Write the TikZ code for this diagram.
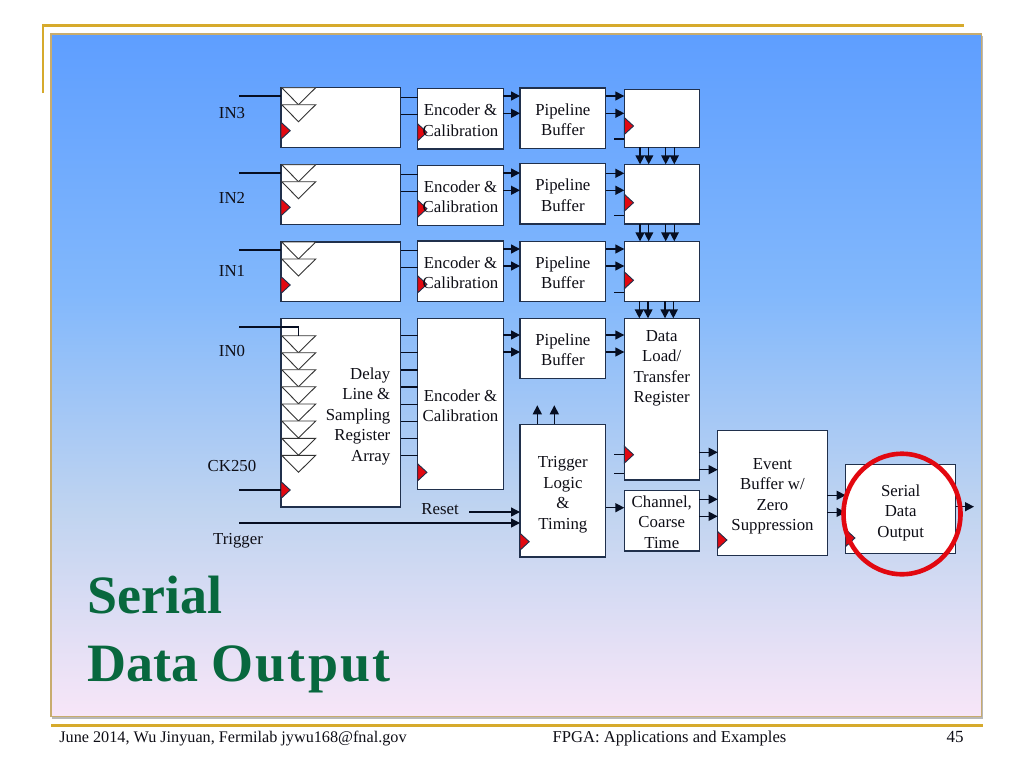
\documentclass[tikz,border=0pt]{standalone}
\usepackage{fontspec}
\setmainfont{Liberation Serif}
\usetikzlibrary{arrows.meta}
\definecolor{gold}{RGB}{214,170,44}
\definecolor{panelrim}{RGB}{200,172,110}
\definecolor{wirecol}{RGB}{6,14,34}
\definecolor{boxrim}{RGB}{32,48,76}
\definecolor{titlegreen}{RGB}{8,104,62}
\definecolor{clockred}{RGB}{226,8,16}
\definecolor{txt}{RGB}{14,14,22}
\definecolor{panelbot}{RGB}{248,230,248}
\definecolor{panelc}{RGB}{192,212,240}
\definecolor{paneld}{RGB}{130,184,252}
\definecolor{paneltop}{RGB}{94,158,255}
\pgfdeclareverticalshading{panelfill}{100bp}{
 color(0bp)=(panelbot); color(25bp)=(panelbot);
 color(40bp)=(panelc); color(56bp)=(paneld); color(75bp)=(paneltop); color(100bp)=(paneltop)}
\tikzset{
 x=1pt,y=-1pt,
 blockbox/.style={draw=boxrim,fill=white,line width=1.25pt,inner sep=0pt,outer sep=0pt},
 lab/.style={inner sep=0pt,align=center,text=txt,font=\fontsize{16.8}{20.5}\selectfont},
 wire/.style={draw=wirecol,line width=1.4pt},
 arr/.style={wire,-{Triangle[length=9pt,width=9pt]}},
 trianglemark/.style={draw=black!80,line width=0.9pt,fill=white,line join=miter},
 clockmark/.style={draw=boxrim,fill=clockred,line width=0.9pt},
 foot/.style={inner sep=0pt,text=txt,anchor=base},
 headline/.style={inner sep=0pt,text=titlegreen,anchor=base west,font=\fontsize{54}{60}\bfseries\selectfont},
}
% block without clock: name, x0, y0, x1, y1, text drop, text
\newcommand\blk[7]{%
 \pgfmathsetmacro\bw{#4-#2}\pgfmathsetmacro\bh{#5-#3}%
 \pgfmathsetmacro\bcx{(#2+#4)/2}\pgfmathsetmacro\bcy{(#3+#5)/2}%
 \node[blockbox,minimum width=\bw pt,minimum height=\bh pt] (#1) at (\bcx,\bcy) {};
 \node[lab,yshift=-#6pt] (#1text) at (#1) {#7};}
% block with clock: name, x0, y0, x1, y1, clock y, text drop, text
\newcommand\cblk[8]{%
 \pgfmathsetmacro\bw{#4-#2}\pgfmathsetmacro\bh{#5-#3}%
 \pgfmathsetmacro\bcx{(#2+#4)/2}\pgfmathsetmacro\bcy{(#3+#5)/2}%
 \node[blockbox,minimum width=\bw pt,minimum height=\bh pt] (#1) at (\bcx,\bcy) {};
 \draw[clockmark] (#2,#6-8.5) -- (#2+9.2,#6) -- (#2,#6+8.5) -- cycle;
 \def\blocktext{#8}\ifx\blocktext\empty\else\node[lab,yshift=-#7pt] (#1text) at (#1) {#8};\fi}
\newcommand\tri[1]{\draw[trianglemark] (281.7,#1) -- (315.7,#1) -- (298.5,#1+17) -- cycle;}
\newcommand\hw[4]{\draw[#1] (#2 |- 0,#4) -- (#3 |- 0,#4);}
\newcommand\vw[4]{\draw[#1] (#4,0 |- #2) -- (#4,0 |- #3);}
\begin{document}
\begin{tikzpicture}
\useasboundingbox (0,0) rectangle (1024,768);
\fill[white] (0,0) rectangle (1024,768);
% slide frame
\fill[black!28] (52,36) rectangle (983,719);
\fill[shading=panelfill] (51,34) rectangle (981.5,716.5);
\draw[panelrim,line width=1.2pt] (51,34) rectangle (981.5,716.5);
\draw[gold,line width=2.4pt] (43,93) -- (43,25.5) -- (964,25.5);
\draw[gold,line width=2.4pt] (51,725.3) -- (983,725.3);
% blocks
\cblk{reg3}{281}{87.7}{400.7}{147.3}{130.7}{0}{}
\cblk{reg2}{281}{164.7}{400.7}{224.3}{207.3}{0}{}
\cblk{reg1}{281}{242}{400.7}{301.3}{285}{0}{}
\cblk{reg0}{281}{318.7}{400.7}{507}{490}{0}{}
\cblk{enc3}{417.7}{88.3}{503.3}{149}{132.3}{1.5}{Encoder \&\\Calibration}
\cblk{enc2}{417.7}{165.3}{503.3}{225.7}{208.7}{1.5}{Encoder \&\\Calibration}
\cblk{enc1}{417.7}{241}{503.3}{301.3}{284.3}{1.5}{Encoder \&\\Calibration}
\cblk{enc0}{417.7}{318.3}{503.3}{489.3}{472.3}{2}{Encoder \&\\Calibration}
\blk{pipe3}{520}{88}{605.7}{148.3}{1.5}{Pipeline\\Buffer}
\blk{pipe2}{520}{163.7}{605.7}{224}{1.5}{Pipeline\\Buffer}
\blk{pipe1}{520}{241.3}{605.7}{301.3}{1.5}{Pipeline\\Buffer}
\blk{pipe0}{520}{318.3}{605.7}{378.3}{1.5}{Pipeline\\Buffer}
\cblk{load3}{624.3}{89.3}{699.3}{147.3}{126}{0}{}
\cblk{load2}{624.3}{164.3}{699.3}{224}{202.7}{0}{}
\cblk{load1}{624.3}{241.3}{699.3}{301.3}{280.3}{0}{}
\cblk{load0}{624.3}{318.3}{699.3}{480}{454.7}{0}{}
\cblk{trig}{520}{424.3}{605.7}{557}{541.7}{4}{Trigger\\Logic\\\&\\Timing}
\blk{chan}{624.3}{490.3}{699.3}{551}{1.5}{Channel,\\Coarse\\Time}
\cblk{event}{717.7}{430.7}{827.3}{555.7}{540}{3}{Event\\Buffer w/\\Zero\\Suppression}
\cblk{serial}{845.7}{464.7}{955.7}{553.3}{538}{3.5}{Serial\\Data\\Output}
% labels inside tall blocks
\node[lab,align=right,anchor=east] (reglabel) at (390.5,416) {Delay\\Line \&\\Sampling\\Register\\Array};
\node[lab] (loadlabel) at (661.7,368.5) {Data\\Load/\\Transfer\\Register};
% delay cells
\foreach \t in {87.7,104.7,164.7,181.7,242,259,335.7,352.7,369.7,386.7,404,421,438.3,455.3} {\tri{\t}}
% side labels
\node[lab] (in3) at (232,113) {IN3};
\node[lab] (in2) at (232,198) {IN2};
\node[lab] (in1) at (232,271) {IN1};
\node[lab] (in0) at (232,351) {IN0};
\node[lab] (ck) at (232,466) {CK250};
\node[lab] (trl) at (238,541) {Trigger};
\node[lab] (rst) at (440,509) {Reset};
% free ends
\coordinate (s3) at (239,96);
\coordinate (s2) at (239,173);
\coordinate (s1) at (239,250);
\coordinate (s0) at (239,327);
\coordinate (sck) at (239,490);
\coordinate (strg) at (239,523);
\coordinate (srst) at (469,512);
\coordinate (t0) at (298.5,335.7);
\coordinate (out) at (974,506.7);
% inputs
\draw[wire] (s3) -- (reg3.west |- s3);
\draw[wire] (s2) -- (reg2.west |- s2);
\draw[wire] (s1) -- (reg1.west |- s1);
\draw[wire] (s0) -- (t0 |- s0) -- (t0);
\draw[wire] (sck) -- (reg0.west |- sck);
\draw[arr] (strg) -- (trig.west |- strg);
\draw[arr] (srst) -- (trig.west |- srst);
% register to encoder
\foreach \y in {97.7,114.7}{\hw{wire}{reg3.east}{enc3.west}{\y}}
\foreach \y in {174.7,191.7}{\hw{wire}{reg2.east}{enc2.west}{\y}}
\foreach \y in {250.3,267.7}{\hw{wire}{reg1.east}{enc1.west}{\y}}
\foreach \y in {335.7,352.7,370,387,404.3,421.3,438.3,455.3}{\hw{wire}{reg0.east}{enc0.west}{\y}}
% encoder to pipeline
\foreach \y in {96,113.3}{\hw{arr}{enc3.east}{pipe3.west}{\y}}
\foreach \y in {173,190.3}{\hw{arr}{enc2.east}{pipe2.west}{\y}}
\foreach \y in {249,266}{\hw{arr}{enc1.east}{pipe1.west}{\y}}
\foreach \y in {335,352}{\hw{arr}{enc0.east}{pipe0.west}{\y}}
% pipeline to load
\foreach \y in {96,113.3}{\hw{arr}{pipe3.east}{load3.west}{\y}}
\foreach \y in {173.3,190.3}{\hw{arr}{pipe2.east}{load2.west}{\y}}
\foreach \y in {249,266}{\hw{arr}{pipe1.east}{load1.west}{\y}}
\foreach \y in {335,352}{\hw{arr}{pipe0.east}{load0.west}{\y}}
% short stubs
\coordinate (st) at (614,0);
\foreach \y/\b in {139/load3,215.7/load2,292.7/load1,454.7/load0,473.3/load0}{\hw{wire}{st}{\b.west}{\y}}
% load chain
\foreach \x in {640,648.7,665.7,674.3}{\vw{arr}{load3.south}{load2.north}{\x}\vw{arr}{load2.south}{load1.north}{\x}}
\foreach \x in {639.3,648,665,673.3}{\vw{arr}{load1.south}{load0.north}{\x}}
% trigger
\coordinate (up) at (0,405.3);
\foreach \x in {537.3,554.3}{\vw{arr}{trig.north}{up}{\x}}
\hw{arr}{trig.east}{chan.west}{507.7}
% to event and serial
\foreach \y in {452.3,469.7}{\hw{arr}{load0.east}{event.west}{\y}}
\foreach \y in {499.3,516.3}{\hw{arr}{chan.east}{event.west}{\y}}
\foreach \y in {495.3,512.3}{\hw{arr}{event.east}{serial.west}{\y}}
\draw[arr] (serial.east |- out) -- (out);
% highlight
\node[draw=clockred,line width=4.6pt,circle,inner sep=0pt,minimum width=117pt,yscale=1.03] (ring) at (902,514) {};
% title and footer
\node[headline] (title1) at (87,613) {Serial};
\node[headline] (title2) at (87,681) {Data {\addfontfeatures{LetterSpace=4}Output}};
\node[foot,font=\fontsize{16.2}{18}\selectfont] (f1) at (233,742) {June 2014, Wu Jinyuan, Fermilab jywu168@fnal.gov};
\node[foot,font=\fontsize{16.6}{18}\selectfont] (f2) at (669.5,742) {FPGA: Applications and Examples};
\node[foot,font=\fontsize{17}{18}\selectfont] (f3) at (955,742) {45};
\end{tikzpicture}
\end{document}
